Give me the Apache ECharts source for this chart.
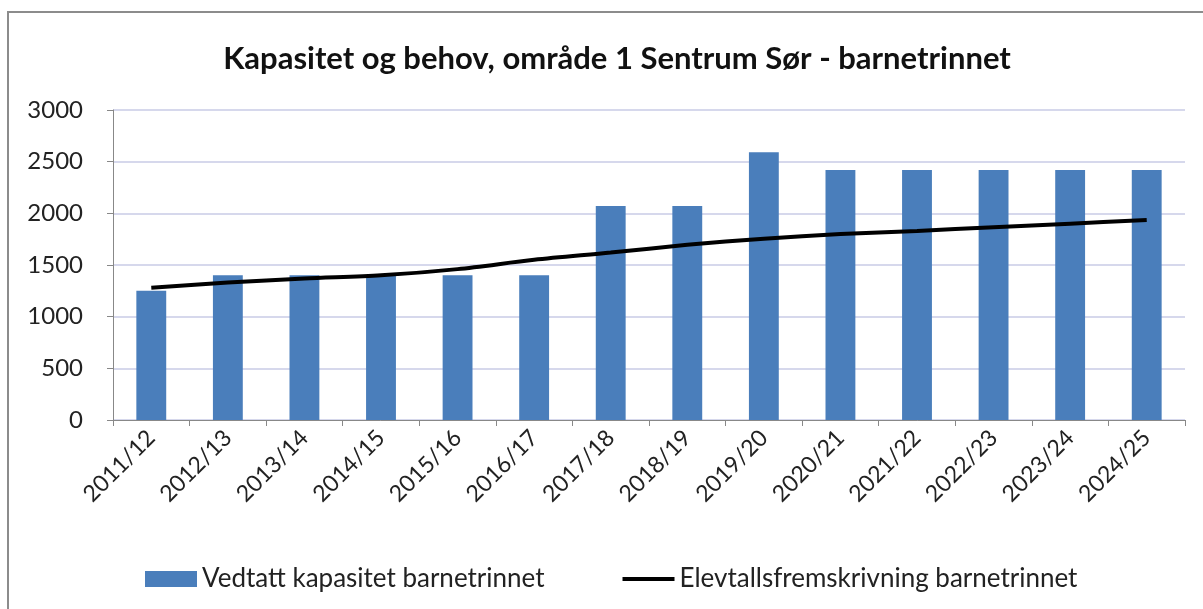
<!DOCTYPE html>
<html>
<head>
<meta charset="utf-8">
<script src="https://cdn.jsdelivr.net/npm/echarts@6/dist/echarts.min.js"></script>
<style>
  html, body { margin: 0; padding: 0; background: #fff; }
  #chart { width: 1203px; height: 609px; }
</style>
</head>
<body>
<div id="chart"></div>
<script>
// kategorier (skoleår)
const categories = ['2011/12', '2012/13', '2013/14', '2014/15', '2015/16', '2016/17', '2017/18',
  '2018/19', '2019/20', '2020/21', '2021/22', '2022/23', '2023/24', '2024/25'];
// vedtatt kapasitet
const kapasitet = [1250, 1400, 1400, 1400, 1400, 1400, 2070, 2070, 2590, 2420, 2420, 2420, 2420, 2420];
// elevtallsfremskrivning
const fremskrivning = [1280, 1330, 1370, 1400, 1460, 1550, 1620, 1695, 1755, 1800, 1830, 1865, 1900, 1935];
const yTicks = { min: 0, max: 3000, interval: 500 };

const font = 'Lato, "Open Sans", sans-serif';
const chart = echarts.init(document.getElementById('chart'));

chart.setOption({
  animation: false,
  backgroundColor: '#fff',
  graphic: [{
    type: 'rect',
    shape: { x: 8, y: 12, width: 1220, height: 620 },
    style: { fill: 'none', stroke: '#8c8c8c', lineWidth: 2 }
  }],
  title: {
    text: 'Kapasitet og behov, område 1 Sentrum Sør - barnetrinnet',
    left: 612,
    textAlign: 'center',
    top: 38,
    textStyle: { fontFamily: font, fontSize: 31, fontWeight: 'bold', color: '#111' }
  },
  legend: {
    left: 140,
    top: 561,
    itemWidth: 52,
    itemHeight: 16,
    itemGap: 78,
    textStyle: { fontFamily: font, fontSize: 26, color: '#222' },
    data: [
      { name: 'Vedtatt kapasitet barnetrinnet', icon: 'rect' },
      { name: 'Elevtallsfremskrivning barnetrinnet', icon: 'path://M0,0H52V4H0Z' }
    ]
  },
  grid: { left: 113, right: 18, top: 110, bottom: 189, containLabel: false },
  xAxis: {
    type: 'category',
    data: categories,
    axisLine: { lineStyle: { color: '#888' } },
    axisTick: { show: true, length: 6, lineStyle: { color: '#888' } },
    axisLabel: {
      rotate: 45,
      interval: 0,
      margin: 14,
      fontFamily: font,
      fontSize: 23,
      color: '#222'
    }
  },
  yAxis: {
    type: 'value',
    min: yTicks.min,
    max: yTicks.max,
    interval: yTicks.interval,
    axisLine: { show: true, lineStyle: { color: '#888' } },
    axisTick: { show: true, length: 6, lineStyle: { color: '#888' } },
    splitLine: { lineStyle: { color: '#c9cbe6', width: 1.5 } },
    axisLabel: {
      fontFamily: font, fontSize: 24, color: '#222', margin: 30,
      formatter: (v) => String(v)
    }
  },
  series: [
    {
      name: 'Vedtatt kapasitet barnetrinnet',
      type: 'bar',
      data: kapasitet,
      barWidth: '39%',
      itemStyle: { color: '#4a7ebb' }
    },
    {
      name: 'Elevtallsfremskrivning barnetrinnet',
      type: 'line',
      data: fremskrivning,
      symbol: 'none',
      smooth: 0.3,
      lineStyle: { color: '#000', width: 4 },
      itemStyle: { color: '#000' }
    }
  ]
});
</script>
</body>
</html>
